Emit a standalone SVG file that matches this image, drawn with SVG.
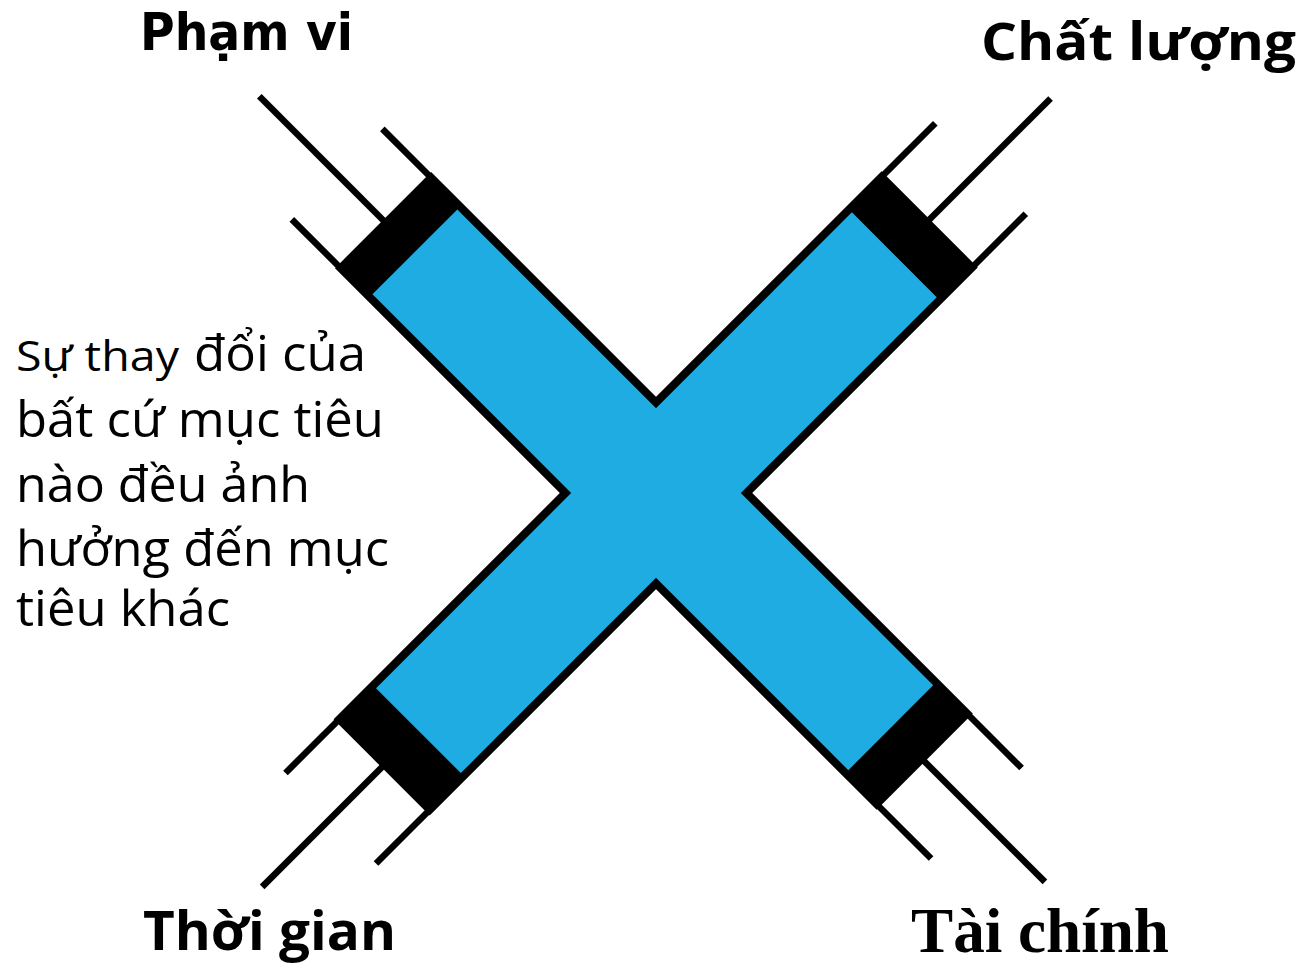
<svg xmlns="http://www.w3.org/2000/svg" width="1303" height="964" viewBox="0 0 1303 964">
  <style>
    .outline { fill: #000000; }
    .fill { fill: #1EACE3; }
    .ln { stroke: #000000; stroke-width: 6.5; stroke-linecap: butt; fill: none; }
    .lbl { font-family: "Open Sans", "DejaVu Sans", sans-serif; font-weight: bold; fill: #000000; }
    .lbl2 { font-family: "DejaVu Sans", "Open Sans", sans-serif; font-weight: bold; fill: #000000; }
    .serif { font-family: "Liberation Serif", "Times New Roman", serif; font-weight: bold; fill: #000000; }
    .body { font-family: "Open Sans", "DejaVu Sans", sans-serif; fill: #000000; }
  </style>
  <rect x="0" y="0" width="1303" height="964" fill="#ffffff"/>

  <g id="cross">
    <rect class="outline" transform="translate(656,493) rotate(45)" x="-386" y="-68" width="766" height="136"/>
    <rect class="outline" transform="translate(656,493) rotate(-45)" x="-388" y="-68" width="775" height="136"/>
    <rect class="fill" transform="translate(656,493) rotate(45)" x="-341" y="-60" width="673" height="120"/>
    <rect class="fill" transform="translate(656,493) rotate(-45)" x="-336" y="-60" width="673" height="120"/>
  </g>

  <g id="connectors">
    <g transform="translate(656,493) rotate(45)">
      <line class="ln" x1="-384" y1="0" x2="-561" y2="0"/>
      <line class="ln" x1="-384" y1="-64" x2="-451" y2="-64"/>
      <line class="ln" x1="-384" y1="64" x2="-451" y2="64"/>
      <line class="ln" x1="378" y1="0" x2="550" y2="0"/>
      <line class="ln" x1="378" y1="-64" x2="453" y2="-64"/>
      <line class="ln" x1="378" y1="64" x2="453" y2="64"/>
    </g>
    <g transform="translate(656,493) rotate(-45)">
      <line class="ln" x1="385" y1="0" x2="558" y2="0"/>
      <line class="ln" x1="385" y1="-64" x2="459" y2="-64"/>
      <line class="ln" x1="385" y1="64" x2="459" y2="64"/>
      <line class="ln" x1="-386" y1="0" x2="-557" y2="0"/>
      <line class="ln" x1="-386" y1="-64" x2="-460" y2="-64"/>
      <line class="ln" x1="-386" y1="64" x2="-460" y2="64"/>
    </g>
  </g>

  <g id="label-pham-vi">
    <text class="lbl2" x="140" y="50" font-size="51" textLength="213" lengthAdjust="spacingAndGlyphs">Phạm vi</text>
  </g>
  <g id="label-chat-luong">
    <text class="lbl" x="981" y="60" font-size="52" textLength="315" lengthAdjust="spacingAndGlyphs">Chất lượng</text>
  </g>
  <g id="label-thoi-gian">
    <text class="lbl" x="143" y="950" font-size="53" textLength="253" lengthAdjust="spacingAndGlyphs">Thời gian</text>
  </g>
  <g id="label-tai-chinh">
    <text class="serif" x="911" y="952" font-size="64" textLength="258" lengthAdjust="spacingAndGlyphs">Tài chính</text>
  </g>

  <g id="note">
    <text class="body" x="16" y="371" font-size="42" textLength="163" lengthAdjust="spacingAndGlyphs">Sự thay</text>
    <text class="body" x="194" y="371" font-size="49" textLength="172" lengthAdjust="spacingAndGlyphs">đổi của</text>
    <text class="body" x="16" y="437" font-size="49" textLength="368" lengthAdjust="spacingAndGlyphs">bất cứ mục tiêu</text>
    <text class="body" x="16" y="502" font-size="49" textLength="294" lengthAdjust="spacingAndGlyphs">nào đều ảnh</text>
    <text class="body" x="16" y="566" font-size="49" textLength="373" lengthAdjust="spacingAndGlyphs">hưởng đến mục</text>
    <text class="body" x="16" y="626" font-size="49" textLength="214" lengthAdjust="spacingAndGlyphs">tiêu khác</text>
  </g>
</svg>
